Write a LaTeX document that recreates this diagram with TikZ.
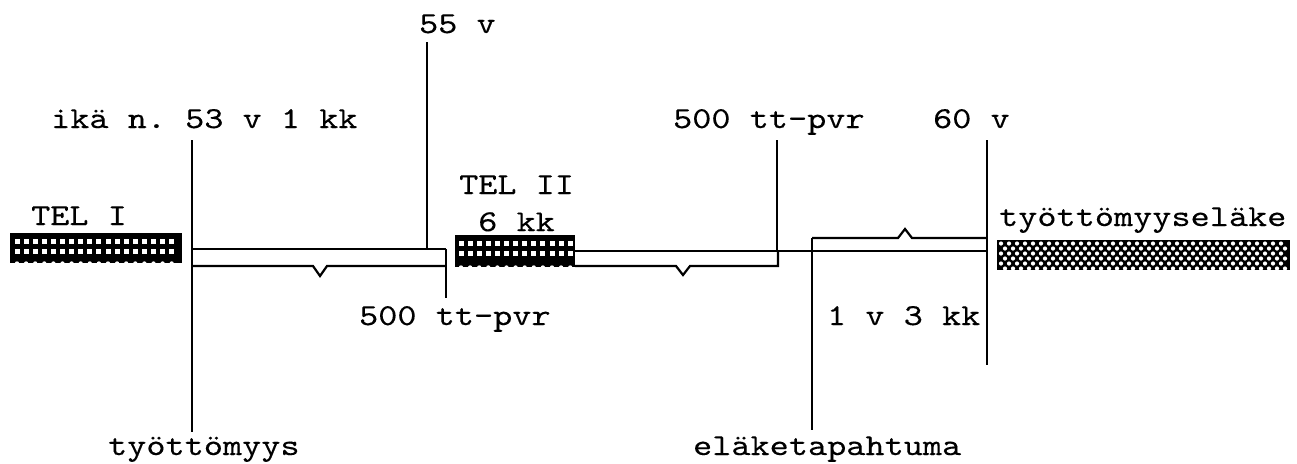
\documentclass[tikz,border=0pt]{standalone}
\usepackage{fontspec}
\newfontfamily\typew{lmmono10-regular.otf}[FakeStretch=1.2,FakeBold=0.25]
\usetikzlibrary{positioning}
\begin{document}
\begin{tikzpicture}[x=0.5pt, y=-0.5pt, line width=1.1pt,
    every node/.style={font=\fontsize{15.2}{18}\selectfont\typew\frenchspacing, inner sep=0pt},
    tick/.style={line width=1.4pt}]
  \useasboundingbox (0,0) rectangle (1297,463);

  \node[anchor=base west] (v55) at (418,33) {55 v};
  \node[anchor=base west] (ika) at (50,128) {ikä n. 53 v 1 kk};
  \node[anchor=base west] (pvr1) at (672,128) {500 tt-pvr};
  \node[anchor=base west] (v60) at (932,128) {60 v};
  \node[anchor=base west] (tel1) at (30,225) {TEL I};
  \node[anchor=base west] (tel2) at (458,194) {TEL II};
  \node (kk6) [below=8pt of tel2] {6 kk};
  \node[anchor=base west] (tela) at (998,226) {työttömyyseläke};
  \node[anchor=base west] (pvr2) at (358,325) {500 tt-pvr};
  \node[anchor=base west] (v1k3) at (826,325) {1 v 3 kk};
  \node[anchor=base west] (tyo) at (107,455) {työttömyys};
  \node[anchor=base west] (elt) at (692,455) {eläketapahtuma};

  \coordinate (tyo1) at (192,140);
  \coordinate (tyo2) at (192,432);
  \coordinate (a55) at (427,42);
  \coordinate (b55) at (427,249);
  \coordinate (p1a) at (777,140);
  \coordinate (p1b) at (777,251);
  \coordinate (p2a) at (446,249);
  \coordinate (p2b) at (446,298);
  \coordinate (a60) at (987,140);
  \coordinate (b60) at (987,365);
  \coordinate (elt1) at (812,238);
  \coordinate (elt2) at (812,430);

  \fill (10,233) rectangle (182,263);
  \foreach \i in {0,...,17} {
    \fill[white] (17+9.1*\i-2.5,241-2.5) rectangle ++(5,5);
    \fill[white] (17+9.1*\i-2.5,251-2.5) rectangle ++(5,5);
    \fill[white] (17+9.1*\i,263.5) circle (2.2);
  }
  \fill (455,235) rectangle (575,267);
  \foreach \i in {0,...,12} {
    \fill[white] (461+9.1*\i-2.5,243-2.5) rectangle ++(5,5);
    \fill[white] (461+9.1*\i-2.5,253-2.5) rectangle ++(5,5);
    \fill[white] (461+9.1*\i,267.5) circle (2.2);
  }
  \fill (997,240) rectangle (1290,270);
  \foreach \j in {0,...,5}
    \foreach \i in {0,...,35} {
      \pgfmathsetmacro\xo{1001+8*\i+4*mod(\j,2)}
      \fill[white] (\xo,243.5+5*\j) circle (2.1);
    }

  \draw (tyo1 |- b55) -- (p2a);
  \draw (192,266) -- (313,266) -- (320,276) -- (327,266) -- (446,266);
  \draw (575,251) -- (b60 |- p1b);
  \draw (575,266) -- (676,266) -- (683,275) -- (690,266) -- (778,266) -- (778,251);
  \draw (elt1) -- (898,238) -- (905,229) -- (912,238) -- (b60 |- elt1);

  \draw[tick] (tyo1) -- (tyo2);
  \draw[tick] (a55) -- (b55);
  \draw[tick] (p1a) -- (p1b);
  \draw[tick] (p2a) -- (p2b);
  \draw[tick] (a60) -- (b60);
  \draw[tick] (elt1) -- (elt2);
\end{tikzpicture}
\end{document}
